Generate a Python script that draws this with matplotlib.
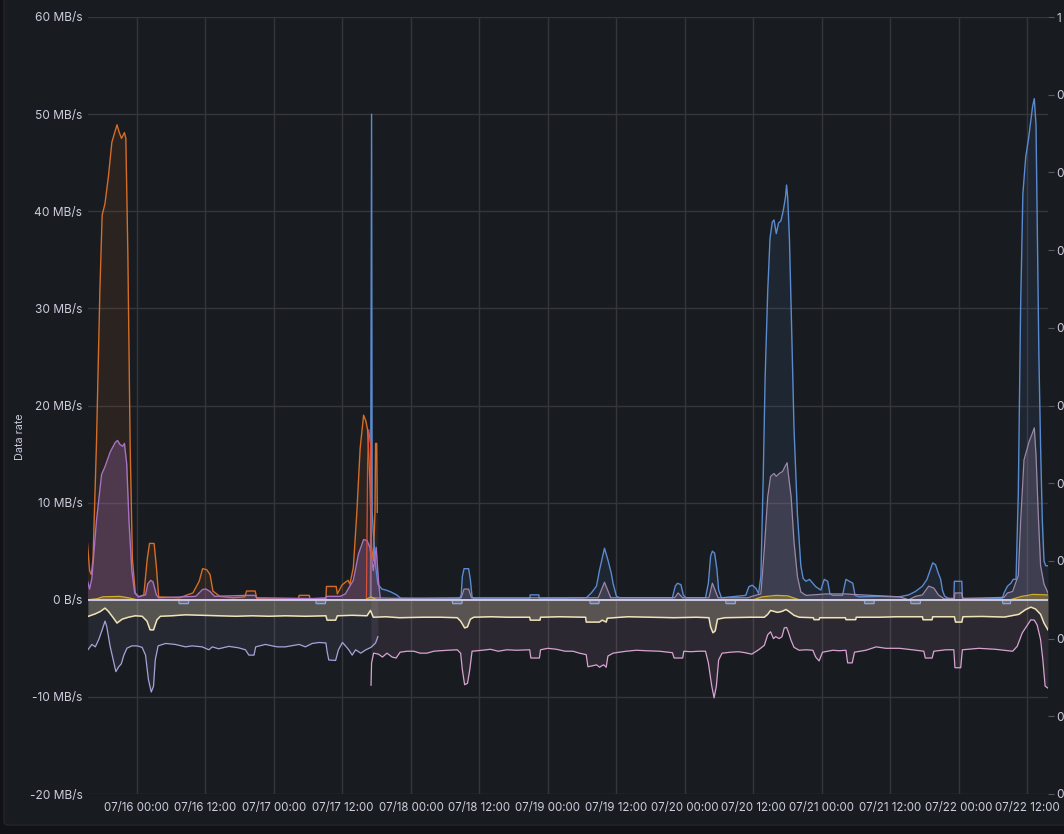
#!/usr/bin/env python3
"""Grafana-style dark panel: network data rate over one week (07/16 - 07/22)."""

import datetime as dt

import matplotlib
matplotlib.use("Agg")
import matplotlib.dates as mdates
import matplotlib.pyplot as plt
from matplotlib.patches import FancyBboxPatch

BASE = dt.datetime(2023, 7, 16)
X_RANGE_H = [-8.58, 159.6]

# hours since 07/16 00:00, values in MB/s
ORANGE_H = [-8.7, -8.3, -8.0, -7.7, -7.1, -6.5, -6.1, -5.6, -5.0, -4.4, -4.0, -3.5, -3.1, -2.7,
            -2.2, -1.95, -1.6, -1.2, -0.8, -0.3, 0.3, 1.2, 1.8, 2.2, 3.0, 3.4, 3.8, 7.4, 9.8, 10.9,
            11.5, 12.2, 12.8, 13.3, 14.5, 16.8, 18.9, 19.2, 20.7, 21.0, 28.3, 28.4, 30.2, 30.3,
            33.1, 33.2, 34.9, 35.1, 35.9, 36.5, 37.0, 37.3, 37.9, 38.5, 39.1, 39.7, 40.1, 40.4,
            40.8, 41.1, 41.4, 41.7, 41.8, 42.0, 42.1]
ORANGE_V = [6.0, 3.0, 2.6, 4.2, 16.0, 31.8, 39.6, 40.8, 43.6, 47.1, 47.9, 48.9, 48.1, 47.5,
            48.1, 47.5, 35.7, 16.0, 4.2, 0.7, 0.3, 0.5, 4.2, 5.8, 5.8, 3.4, 0.3, 0.2, 0.7, 1.9,
            3.2, 3.1, 2.6, 0.9, 0.35, 0.2, 0.3, 0.9, 0.9, 0.1, 0.1, 0.45, 0.45, 0.1,
            0.2, 1.37, 1.37, 0.6, 1.5, 1.8, 2.0, 1.6, 3.3, 8.8, 15.6, 19.0, 18.4, 17.5,
            12.2, 5.4, 4.0, 9.1, 16.1, 16.1, 9.0]

RED_H = [40.2, 40.4, 40.6, 40.9, 41.05]
RED_V = [0.0, 14.0, 17.5, 16.0, 0.0]

PURPLE_H = [-8.7, -8.3, -7.9, -7.1, -6.2, -5.6, -4.7, -3.8, -3.4, -3.0, -2.5, -2.2, -1.8, -1.4,
            -0.9, -0.4, 0.3, 1.5, 1.9, 2.4, 2.8, 3.4, 3.8, 10.3, 11.5, 12.1, 12.8, 13.6, 19.2,
            20.7, 21.0, 33.1, 33.2, 35.6, 36.5, 37.9, 38.8, 39.7, 40.3, 40.8, 41.4, 41.9, 42.3,
            42.6]
PURPLE_V = [2.0, 1.1, 2.2, 8.1, 12.9, 13.7, 15.2, 16.2, 16.4, 16.0, 15.8, 16.1, 14.0, 8.1,
            3.0, 0.7, 0.3, 0.5, 1.65, 2.0, 1.85, 0.5, 0.2, 0.35, 1.06, 1.1, 0.85, 0.35, 0.45,
            0.45, 0.2, 0.1, 0.35, 0.35, 0.6, 2.0, 4.7, 6.2, 6.1, 5.4, 3.0, 5.4, 2.0,
            0.2]

BLUE_H = [40.9, 41.1, 41.2, 41.5, 41.8, 42.2, 42.9, 43.6, 44.5, 45.5, 46.2, 50.0, 56.5, 56.8,
          57.0, 57.3, 58.1, 58.4, 58.7, 59.0, 68.8, 68.9, 70.4, 70.5, 78.7, 79.6, 80.5, 81.05,
          81.9, 82.5, 83.1, 83.4, 84.0, 84.6, 93.8, 94.3, 94.7, 95.3, 95.7, 96.2, 99.6, 100.1,
          100.5, 100.8, 101.2, 101.6, 101.9, 102.4, 106.65, 107.2, 107.8, 108.4, 108.9, 109.3,
          109.7, 110.05, 110.5, 110.9, 111.3, 111.6, 112.0, 112.4, 112.8, 113.2, 113.6, 113.8,
          114.0, 114.3, 114.6, 115.1, 115.7, 116.3, 116.7, 117.2, 117.8, 118.4, 118.9, 119.8,
          120.4, 121.0, 121.4, 121.9, 123.6, 124.2, 124.8, 125.4, 125.8, 126.5, 129.95, 133.5,
          135.2, 136.4, 137.6, 138.4, 139.0, 139.4, 139.9, 140.4, 140.8, 141.1, 141.5, 142.2,
          143.1, 143.2, 144.5, 144.6, 147.5, 151.6, 151.9, 152.5, 153.1, 153.5, 154.0, 154.4,
          154.8, 155.2, 155.7, 156.2, 156.6, 156.9, 157.2, 157.5, 157.75, 158.0, 158.3, 158.6,
          158.9, 159.2, 159.6]
BLUE_V = [0.2, 50.0, 9.0, 6.0, 3.5, 1.6, 1.1, 1.0, 0.8, 0.5, 0.15, 0.1, 0.1, 0.5,
          2.4, 3.2, 3.2, 2.1, 0.3, 0.1, 0.1, 0.5, 0.5, 0.1, 0.2, 0.7, 1.4, 3.1,
          5.3, 4.1, 2.7, 1.7, 0.35, 0.2, 0.2, 1.4, 1.7, 1.55, 0.5, 0.2, 0.2, 1.7,
          4.5, 5.0, 4.8, 3.1, 1.0, 0.2, 0.45, 1.35, 1.5, 1.2, 0.65, 2.4,
          12.3, 23.0, 31.8, 37.2, 38.9, 39.1, 37.7, 38.8, 39.0, 40.0, 41.4, 42.7,
          41.4, 37.2, 30.1, 17.7, 8.8, 3.5, 2.2, 1.9, 2.1, 1.7, 1.35, 1.0,
          2.1, 1.9, 0.6, 0.45, 0.45, 2.1, 1.9, 1.7, 0.45, 0.3, 0.35, 0.3,
          0.5, 0.86, 1.4, 2.1, 3.1, 3.8, 3.6, 2.7, 2.1, 1.0, 0.35, 0.15,
          0.15, 1.9, 1.9, 0.15, 0.15, 0.15, 0.7, 1.4, 1.7, 2.1, 2.1, 11.0,
          30.0, 41.8, 45.6, 47.5, 49.4, 50.8, 51.6, 48.9, 37.0, 25.2, 15.8, 8.2,
          4.0, 3.5, 3.5]

MAUVE_H = [41.0, 45.0, 56.8, 57.3, 58.1, 58.6, 80.8, 81.9, 83.0, 94.2, 94.8, 95.6, 100.2, 100.8,
           101.8, 107.0, 108.0, 109.3, 109.9, 110.5, 111.0, 111.6, 112.0, 112.5, 113.1, 113.6,
           113.9, 114.1, 114.6, 115.1, 115.7, 116.3, 117.2, 120.7, 124.2, 125.4, 133.6, 135.2,
           136.4, 137.6, 138.7, 139.6, 140.4, 141.4, 143.2, 143.3, 144.5, 144.7, 151.9, 152.5,
           153.4, 154.4, 154.8, 155.4, 156.3, 156.9, 157.2, 157.5, 157.9, 158.3, 158.9, 159.6]
MAUVE_V = [0.2, 0.15, 0.2, 1.1, 1.1, 0.2, 0.2, 1.8, 0.2, 0.2, 0.7, 0.2, 0.2, 1.7,
           0.2, 0.2, 0.4, 0.6, 5.2, 10.6, 12.7, 13.0, 12.7, 13.0, 13.2, 13.8,
           14.1, 13.0, 10.6, 6.0, 2.4, 0.8, 0.45, 0.6, 0.6, 0.55, 0.3, 0.0,
           0.35, 0.5, 1.4, 1.2, 0.5, 0.1, 0.1, 0.7, 0.7, 0.1, 0.25, 0.7,
           0.85, 2.5, 8.0, 14.4, 16.3, 17.2, 17.7, 14.9, 8.7, 3.5, 1.6, 0.7]

YELLOW_H = [-8.58, -7.0, -6.0, -3.0, -1.5, 0.0, 40.0, 41.0, 42.0, 108.0, 109.5, 112.0, 114.0,
            116.0, 153.0, 155.0, 157.0, 159.6]
YELLOW_V = [0.0, 0.1, 0.3, 0.35, 0.2, 0.0, 0.0, 0.3, 0.0, 0.0, 0.3, 0.45, 0.4,
            0.0, 0.0, 0.35, 0.55, 0.5]

DIP_H = [-8.58, 7.3, 7.4, 9.0, 9.1, 31.3, 31.4, 33.0, 33.1, 55.2, 55.3, 56.9, 57.0, 79.3, 79.4,
         80.9, 81.0, 103.1, 103.2, 104.8, 104.9, 127.4, 127.5, 129.1, 129.2, 135.5, 135.6,
         137.2, 137.3, 151.6, 151.7, 153.0, 153.1, 159.6]
DIP_V = [0.0, 0.0, -0.4, -0.4, 0.0, 0.0, -0.4, -0.4, 0.0, 0.0, -0.4, -0.4, 0.0, 0.0, -0.4,
         -0.4, 0.0, 0.0, -0.4, -0.4, 0.0, 0.0, -0.4, -0.4, 0.0, 0.0, -0.4,
         -0.4, 0.0, 0.0, -0.4, -0.4, 0.0, 0.0]

IDLE_H = [-8.58, 159.6]
IDLE_V = [0.0, 0.0]

CREAM_H = [-8.6, -7.3, -6.4, -5.6, -5.0, -4.1, -3.5, -2.6, -1.5, -0.3, 0.9, 1.75, 2.3, 2.9, 3.5,
           4.1, 6.1, 8.5, 11.4, 14.3, 17.3, 20.2, 23.1, 26.0, 29.5, 33.1, 33.3, 34.8, 35.1,
           37.7, 40.3, 40.9, 41.4, 43.6, 46.0, 50.0, 53.2, 56.1, 56.7, 57.4, 57.9, 58.4, 59.0,
           62.0, 65.0, 68.8, 68.9, 70.6, 70.7, 74.0, 78.6, 78.7, 81.0, 81.5, 82.2, 82.4, 86.0,
           90.0, 94.0, 98.0, 100.2, 100.5, 100.9, 101.3, 101.7, 103.0, 107.5, 109.9, 110.5,
           111.0, 112.2, 113.0, 113.7, 114.2, 115.1, 116.0, 118.5, 118.6, 119.5, 119.6, 124.1,
           124.2, 125.9, 126.0, 130.0, 133.0, 137.6, 137.7, 139.3, 139.4, 143.2, 143.4, 144.5,
           144.7, 148.0, 152.0, 154.5, 155.7, 156.6, 157.4, 158.3, 158.9, 159.6]
CREAM_V = [-1.72, -1.45, -1.2, -0.86, -1.2, -1.9, -2.4, -2.0, -1.8, -1.65, -1.7, -2.2, -3.1, -3.1,
           -2.06, -1.7, -1.65, -1.55, -1.6, -1.65, -1.7, -1.65, -1.7, -1.65, -1.7, -1.65, -2.1,
           -2.1, -1.65, -1.6, -1.65, -1.1, -1.8, -1.75, -1.85, -1.8, -1.8, -1.85, -2.2, -2.9,
           -2.8, -2.0, -1.8, -1.75, -1.8, -1.8, -2.1, -2.1, -1.8, -1.75, -1.8, -2.3, -2.3, -2.1,
           -2.3, -1.9, -1.75, -1.8, -1.85, -1.8, -1.85, -2.8, -3.4, -3.2, -2.0, -1.85, -1.8,
           -1.8, -1.5, -1.1, -1.3, -1.2, -1.0, -1.2, -1.6, -1.8, -1.85, -2.05, -2.05, -1.85,
           -1.85, -2.05, -2.05, -1.8, -1.8, -1.75, -1.75, -2.06, -2.06, -1.75, -1.75, -2.3, -2.3,
           -1.75, -1.72, -1.78, -1.5, -1.0, -0.76, -0.95, -1.5, -2.4, -3.1]

LAVENDER_H = [-8.6, -7.9, -7.3, -6.7, -6.1, -5.6, -5.3, -4.7, -4.1, -3.7, -3.2, -2.75, -2.3,
              -1.75, -0.9, 0.0, 0.9, 1.5, 2.0, 2.5, 2.9, 3.2, 3.7, 5.0, 6.7, 8.5, 9.65, 11.4,
              12.6, 13.2, 14.3, 16.1, 17.8, 19.0, 19.6, 20.5, 20.8, 22.5, 23.7, 24.6, 26.0, 28.4,
              29.5, 30.7, 31.9, 33.1, 33.3, 33.6, 34.8, 35.3, 36.0, 36.6, 37.1, 37.7, 38.3, 39.2,
              40.1, 41.0, 41.8, 42.2]
LAVENDER_V = [-5.15, -4.6, -4.85, -4.1, -3.1, -2.2, -2.75, -4.8, -6.35, -7.4, -6.9, -6.6, -5.7,
              -4.98, -4.75, -4.75, -4.9, -5.7, -8.2, -9.5, -8.9, -6.2, -4.75, -4.5, -4.6, -4.85,
              -4.75, -4.85, -5.15, -4.85, -5.05, -4.8, -4.95, -5.15, -5.7, -5.7, -4.85, -4.6,
              -4.75, -4.85, -4.85, -4.6, -4.85, -4.5, -4.4, -4.45, -5.3, -6.2, -6.25, -5.15,
              -4.4, -4.8, -5.15, -5.7, -5.15, -5.5, -5.15, -4.9, -4.45, -3.8]

PINK_H = [41.0, 41.1, 41.45, 42.3, 43.0, 43.8, 44.7, 45.4, 46.1, 47.3, 48.5, 49.6, 50.8, 52.0,
          53.1, 54.5, 56.1, 56.7, 57.0, 57.4, 57.9, 58.3, 58.7, 60.5, 61.9, 63.3, 64.8, 66.5,
          68.8, 69.0, 70.5, 70.7, 72.0, 73.5, 75.0, 76.4, 77.5, 78.7, 79.0, 79.8, 80.5, 81.05,
          81.4, 81.75, 82.2, 82.5, 83.4, 84.5, 85.7, 87.5, 89.2, 91.5, 93.8, 94.1, 95.6, 95.8,
          97.0, 98.5, 99.6, 100.1, 100.7, 101.1, 101.5, 101.9, 102.5, 104.0, 105.4, 106.5,
          107.7, 108.9, 109.9, 110.5, 111.0, 111.5, 111.9, 112.5, 113.0, 113.4, 113.8, 114.1,
          114.6, 115.1, 116.0, 117.2, 118.4, 118.9, 119.5, 120.1, 121.9, 123.0, 124.2, 124.5,
          125.3, 125.7, 127.7, 129.5, 131.2, 133.6, 135.8, 137.85, 138.1, 139.3, 139.6, 141.7,
          143.1, 143.3, 144.3, 144.6, 147.5, 150.4, 153.4, 154.2, 155.1, 156.0, 156.6, 157.2,
          157.7, 158.3, 158.7, 159.1, 159.6]
PINK_V = [-8.8, -6.5, -5.5, -5.6, -5.9, -5.5, -5.9, -6.0, -5.4, -5.3, -5.3, -5.5, -5.5, -5.3,
          -5.25, -5.2, -5.15, -5.5, -7.2, -8.75, -8.6, -7.2, -5.3, -5.2, -5.1, -5.3, -5.15, -5.2,
          -5.15, -6.0, -6.0, -5.15, -5.0, -5.1, -5.3, -5.3, -5.5, -5.65, -6.9, -6.8, -6.7, -6.95,
          -6.8, -6.7, -6.95, -5.8, -5.5, -5.4, -5.3, -5.2, -5.25, -5.3, -5.45, -6.0, -6.0, -5.3,
          -5.35, -5.3, -5.3, -6.5, -8.9, -10.1, -8.9, -6.2, -5.5, -5.4, -5.35, -5.45,
          -5.6, -5.15, -4.7, -3.6, -3.3, -4.0, -3.8, -4.0, -3.8, -2.9, -2.85, -3.3,
          -4.2, -4.9, -5.2, -5.15, -5.2, -5.9, -6.3, -5.4, -5.2, -5.25, -5.2, -6.5,
          -6.5, -5.4, -5.2, -4.85, -5.0, -5.0, -5.15, -5.3, -6.0, -6.0, -5.3, -5.15,
          -5.15, -7.0, -7.0, -5.15, -5.0, -5.1, -5.3, -4.8, -3.4, -2.6, -2.06, -2.1,
          -2.6, -4.1, -6.2, -8.9, -9.1]

# right axis: only the first glyph of each label fits inside the panel
RIGHT_TICKS = [0.0, 0.1, 0.2, 0.3, 0.4, 0.5, 0.6, 0.7, 0.8, 0.9, 1.0]
RIGHT_LABELS = ["0", "0", "0", "0", "0", "0", "0", "0", "0", "0", "1"]

BG_OUTER = "#111217"
BG_PANEL = "#181b1f"
GRID = "#34363b"
TEXT = "#ccccdc"
FS_Y = 8.6
FS_X = 8.3


def to_dates(hours):
    return [BASE + dt.timedelta(hours=h) for h in hours]


def area(ax, hours, values, color, alpha, lw=1.0, fill=True):
    xs = to_dates(hours)
    if fill:
        ax.fill_between(xs, 0, values, color=color, alpha=alpha, linewidth=0)
    ax.plot(xs, values, color=color, linewidth=lw)


def main() -> None:
    plt.rcParams["font.family"] = ["Inter", "DejaVu Sans"]
    fig = plt.figure(figsize=(10.64, 8.34), dpi=100, facecolor=BG_OUTER)
    W, H = 1064.0, 834.0

    panel = FancyBboxPatch((4 / W, 9 / H), 1.0, 1.0, transform=fig.transFigure,
                           boxstyle="round,pad=0,rounding_size=0.004",
                           facecolor=BG_PANEL, edgecolor="#23252b", linewidth=1, zorder=-10)
    fig.patches.append(panel)

    ax = fig.add_axes([88 / W, (H - 794) / H, 960 / W, 777 / H])
    ax.set_facecolor("none")

    # negative side (fills first so lines stay on top)
    area(ax, LAVENDER_H, LAVENDER_V, "#a7a2d8", 0.10, lw=0.9)
    area(ax, PINK_H, PINK_V, "#d8a2d2", 0.10, lw=0.9)
    area(ax, CREAM_H, CREAM_V, "#efe3b8", 0.24, lw=1.1)

    # positive side
    area(ax, ORANGE_H, ORANGE_V, "#d46d28", 0.10)
    area(ax, BLUE_H, BLUE_V, "#5a8ad0", 0.10)
    area(ax, PURPLE_H, PURPLE_V, "#a872c4", 0.28)
    area(ax, MAUVE_H, MAUVE_V, "#9d88aa", 0.25, lw=0.9)
    area(ax, RED_H, RED_V, "#d9503c", 0.0, lw=0.9, fill=False)
    area(ax, YELLOW_H, YELLOW_V, "#cfae2e", 0.35, lw=0.9)
    area(ax, DIP_H, DIP_V, "#8aa6e0", 0.35, lw=0.9)
    ax.plot(to_dates(IDLE_H), IDLE_V, color="#cfcde6", linewidth=1.3)

    ax.set_ylim(-20, 60)
    ticks = list(range(-20, 61, 10))
    ax.set_yticks(ticks)
    ax.set_yticklabels(["0 B/s" if t == 0 else f"{t} MB/s" for t in ticks])
    ax.set_xlim(*to_dates(X_RANGE_H))
    ax.xaxis.set_major_locator(mdates.HourLocator(byhour=[0, 12]))
    ax.xaxis.set_major_formatter(mdates.DateFormatter("%m/%d %H:%M"))
    ax.grid(True, color=GRID, linewidth=1)
    ax.set_axisbelow(True)
    for s in ax.spines.values():
        s.set_visible(False)
    ax.tick_params(axis="both", length=0, colors=TEXT)
    ax.tick_params(axis="y", pad=4, labelsize=FS_Y)
    ax.tick_params(axis="x", pad=6, labelsize=FS_X)

    fig.text(20 / W, 1 - 437 / H, "Data rate", rotation=90, color=TEXT, fontsize=7.8,
             ha="center", va="center")

    ax2 = ax.twinx()
    ax2.set_ylim(0, 1)
    ax2.set_yticks(RIGHT_TICKS)
    ax2.set_yticklabels(RIGHT_LABELS)
    for s in ax2.spines.values():
        s.set_visible(False)
    ax2.tick_params(axis="y", length=4, color="#55575c", colors=TEXT, labelsize=FS_Y, pad=2)

    fig.savefig("out.png", dpi=100, facecolor=BG_OUTER)


if __name__ == "__main__":
    main()
